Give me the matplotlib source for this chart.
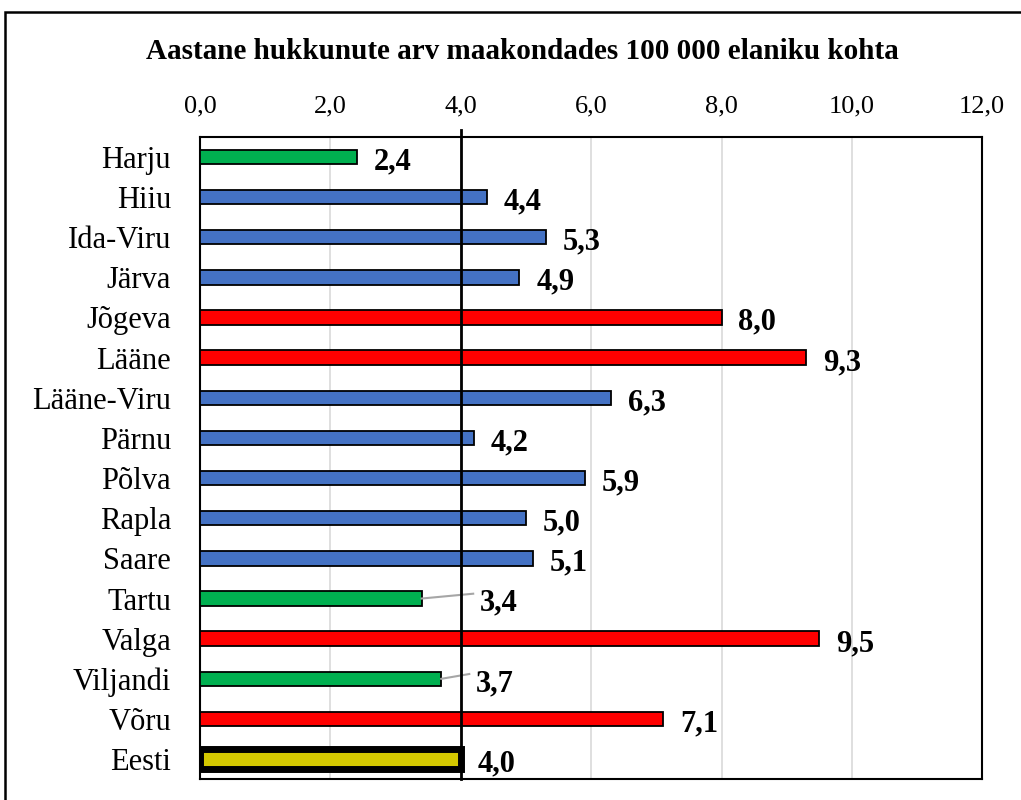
import matplotlib.pyplot as plt
from matplotlib.patches import Rectangle
from matplotlib.ticker import FixedLocator

plt.rcParams['font.family'] = ['Liberation Serif', 'DejaVu Serif']

## Data
counties = ['Harju', 'Hiiu', 'Ida-Viru', 'Järva', 'Jõgeva', 'Lääne', 'Lääne-Viru',
            'Pärnu', 'Põlva', 'Rapla', 'Saare', 'Tartu', 'Valga', 'Viljandi',
            'Võru', 'Eesti']
values = [2.4, 4.4, 5.3, 4.9, 8.0, 9.3, 6.3, 4.2, 5.9, 5.0, 5.1, 3.4, 9.5, 3.7, 7.1, 4.0]
groups = ['g', 'b', 'b', 'b', 'r', 'r', 'b', 'b', 'b', 'b', 'b', 'g', 'r', 'g', 'r', 'e']
x_ticks = [0, 2, 4, 6, 8, 10, 12]
title = 'Aastane hukkunute arv maakondades 100 000 elaniku kohta'

colors = {'g': '#00b050', 'b': '#4472c4', 'r': '#ff0000', 'e': '#d4c800'}

fig = plt.figure(figsize=(10.21, 8), dpi=100)
ax = fig.add_axes([0.196, 0.026, 0.766, 0.803])

ypos = list(range(len(counties)))
for y, v, g in zip(ypos, values, groups):
    if g == 'e':
        ax.barh(y, v, height=0.5, color=colors[g], edgecolor='black', linewidth=5, zorder=3)
    else:
        ax.barh(y, v, height=0.36, color=colors[g], edgecolor='black', linewidth=1.3, zorder=3)

## value labels (Tartu and Viljandi pushed out with leader lines)
for y, v, name in zip(ypos, values, counties):
    lab = ('%.1f' % v).replace('.', ',')
    if name in ('Tartu', 'Viljandi'):
        tx = 4.29 if name == 'Tartu' else 4.23
        ax.plot([v, tx - 0.1], [y, y - 0.12], color='#a6a6a6', lw=1.5, zorder=4)
        ax.text(tx, y + 0.12, lab, fontsize=22, fontweight='bold', va='center', ha='left', zorder=5)
    else:
        ax.text(v + 0.26, y + 0.12, lab, fontsize=22, fontweight='bold', va='center', ha='left', zorder=5)

ax.axvline(4.0, ymin=0, ymax=1.01, color='black', lw=2, zorder=4, clip_on=False)

## x axis on top
ax.set_xlim(0, 12)
ax.xaxis.set_major_locator(FixedLocator(x_ticks))
ax.xaxis.tick_top()
ax.set_xticklabels([('%.1f' % t).replace('.', ',') for t in x_ticks], fontsize=19)
ax.tick_params(axis='x', length=0, pad=14)
ax.grid(axis='x', color='#d9d9d9', lw=1.2, zorder=0)

## y axis
ax.set_ylim(len(counties) - 0.5, -0.5)
ax.set_yticks(ypos)
ax.set_yticklabels(counties, fontsize=22)
ax.tick_params(axis='y', length=0, pad=21)

for s in ax.spines.values():
    s.set_color('black')
    s.set_linewidth(1.5)

fig.text(0.512, 0.936, title, fontsize=21, fontweight='bold', ha='center', va='center')

## outer chart frame
fig.patches.append(Rectangle((0.005, -0.05), 1.2, 1.035, transform=fig.transFigure,
                             fill=False, edgecolor='black', lw=1.8, clip_on=False))

fig.savefig('out.png', dpi=100)
